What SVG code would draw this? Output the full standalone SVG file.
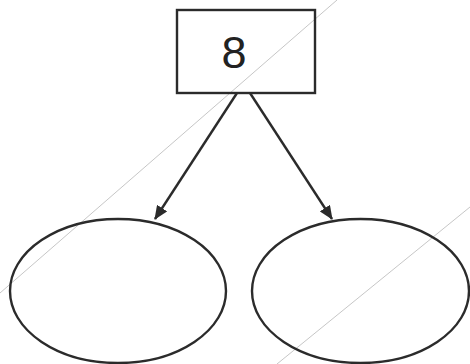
<svg xmlns="http://www.w3.org/2000/svg" width="470" height="364" viewBox="0 0 470 364">
<style>
.shape{fill:none;stroke:#2b2b2b;stroke-width:2.4}
.conn{stroke:#2b2b2b;stroke-width:2.4;fill:none}
.bg{stroke:#b8b8b8;stroke-width:0.8;fill:none}
.lbl{font-family:"Liberation Sans",Arial,sans-serif;font-size:45px;fill:#222;text-anchor:middle}
</style>
<defs>
<marker id="arr" viewBox="0 0 14 12" refX="13" refY="6" markerWidth="14" markerHeight="12" markerUnits="userSpaceOnUse" orient="auto">
<path d="M0,0 L14,6 L0,12 z" fill="#2b2b2b"/>
</marker>
</defs>
<rect width="470" height="364" fill="#fff"/>
<g id="background">
<line class="bg" x1="0" y1="293" x2="337" y2="0"/>
<line class="bg" x1="470" y1="207" x2="277" y2="364"/>
</g>
<g id="node-root">
<rect class="shape" x="177" y="10" width="138" height="83"/>
<text class="lbl" x="234" y="68">8</text>
</g>
<g id="node-left">
<ellipse class="shape" cx="118" cy="291" rx="108" ry="72"/>
</g>
<g id="node-right">
<ellipse class="shape" cx="360.5" cy="291" rx="108.5" ry="72"/>
</g>
<g id="connectors">
<line class="conn" x1="237" y1="93" x2="155" y2="219" marker-end="url(#arr)"/>
<line class="conn" x1="250" y1="93" x2="332" y2="219" marker-end="url(#arr)"/>
</g>
</svg>
